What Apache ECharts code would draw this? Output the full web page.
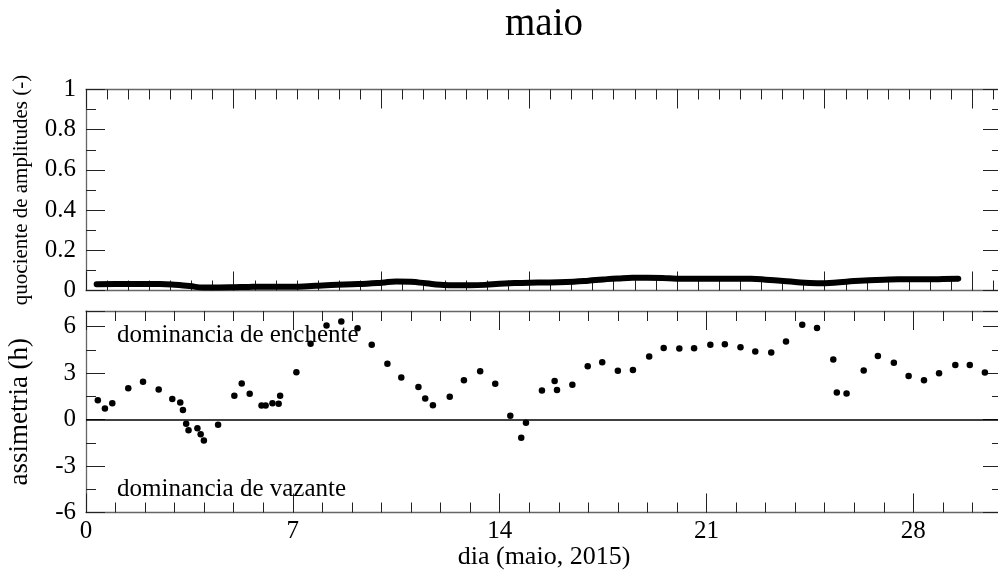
<!DOCTYPE html>
<html><head><meta charset="utf-8">
<script src="https://cdn.jsdelivr.net/npm/echarts@6/dist/echarts.min.js"></script>
<style>html,body{margin:0;padding:0;background:#fff}#c{width:998px;height:579px}</style>
</head><body><div id="c"></div>
<script>
// top panel: quociente de amplitudes (-)
const ampDays = [0.36,1.0,1.5,2.0,2.5,3.0,3.5,4.0,4.5,5.0,5.5,6.0,6.5,7.0,7.5,8.0,8.5,9.0,9.5,10.0,10.5,11.0,11.5,12.0,12.5,13.0,13.5,14.0,14.5,15.0,15.5,16.0,16.5,17.0,17.5,18.0,18.5,19.0,19.5,20.0,20.5,21.0,21.5,22.0,22.5,23.0,23.5,24.0,24.5,25.0,25.5,26.0,26.5,27.0,27.5,28.0,28.5,29.0,29.52];
const ampValues = [0.031,0.032,0.032,0.032,0.032,0.029,0.022,0.015,0.015,0.016,0.018,0.019,0.019,0.019,0.021,0.025,0.028,0.031,0.034,0.039,0.045,0.043,0.036,0.029,0.026,0.026,0.028,0.034,0.037,0.039,0.040,0.041,0.044,0.049,0.055,0.060,0.063,0.063,0.062,0.059,0.059,0.059,0.059,0.059,0.058,0.054,0.048,0.042,0.037,0.036,0.041,0.047,0.051,0.054,0.056,0.056,0.056,0.057,0.059];
// bottom panel: assimetria (h)
const asymDays = [0.40,0.64,0.89,1.43,1.93,2.46,2.92,3.19,3.28,3.39,3.47,3.77,3.88,3.99,4.47,5.02,5.27,5.54,5.94,6.08,6.31,6.52,6.57,7.12,7.60,8.14,8.64,9.19,9.67,10.20,10.67,11.25,11.48,11.74,12.31,12.79,13.34,13.85,14.36,14.73,14.89,15.43,15.86,15.94,16.46,16.98,17.47,18.00,18.51,19.06,19.55,20.08,20.58,21.13,21.62,22.15,22.65,23.19,23.69,24.24,24.74,25.29,25.41,25.74,26.32,26.80,27.34,27.84,28.36,28.87,29.42,29.91,30.42];
const asymValues = [1.25,0.71,1.05,2.02,2.43,1.94,1.33,1.10,0.62,-0.28,-0.69,-0.56,-0.95,-1.35,-0.34,1.53,2.32,1.66,0.90,0.90,1.05,1.01,1.53,3.05,4.88,6.06,6.32,5.89,4.82,3.59,2.71,2.09,1.35,0.92,1.46,2.54,3.12,2.30,0.24,-1.18,-0.21,1.87,2.49,1.91,2.24,3.44,3.70,3.14,3.20,4.06,4.62,4.58,4.60,4.82,4.86,4.66,4.39,4.32,5.03,6.11,5.91,3.87,1.74,1.68,3.16,4.09,3.66,2.80,2.54,2.99,3.51,3.51,3.03];
const dayTicks = [0,7,14,21,28];
const ampTicks = [0,0.2,0.4,0.6,0.8,1];
const asymTicks = [-6,-3,0,3,6];

const FONT = 'Liberation Serif';
const spine = {color:'#666', width:1.3};
const tickStyle = {color:'#222', width:1};

function axis(kind, grid, pos, min, max, interval, len, showLine, labelVals, extra) {
  const a = {
    type:'value', gridIndex:grid, position:pos, min:min, max:max, interval:interval,
    axisLine:{show:showLine, onZero:false, lineStyle:spine},
    axisTick:{show:true, inside:true, length:len, lineStyle:tickStyle},
    splitLine:{show:false},
    axisLabel: labelVals ? {
      show:true, fontFamily:FONT, fontSize:25, color:'#000',
      margin: kind==='x' ? 6 : 10,
      formatter: v => (labelVals.some(t => Math.abs(t - v) < 1e-9) ? String(v) : '')
    } : {show:false}
  };
  return Object.assign(a, extra || {});
}

const xAxes = [
  axis('x',0,'bottom',0,31,5,19,true,null),
  axis('x',0,'bottom',0,31,5/7,10,false,null),
  axis('x',0,'top',0,31,5,19,true,null),
  axis('x',0,'top',0,31,5/7,10,false,null),
  axis('x',1,'bottom',0,31,7,19,true,dayTicks,{
    name:'dia (maio, 2015)', nameLocation:'middle', nameGap:31,
    nameTextStyle:{fontFamily:FONT, fontSize:26, color:'#000'}}),
  axis('x',1,'bottom',0,31,1,10,false,null),
  axis('x',1,'top',0,31,7,19,true,null),
  axis('x',1,'top',0,31,1,10,false,null)
];
const yAxes = [
  axis('y',0,'left',0,1,0.2,19,true,ampTicks,{
    name:'quociente de amplitudes (-)', nameLocation:'middle', nameGap:54, nameRotate:90,
    nameTextStyle:{fontFamily:FONT, fontSize:21, color:'#000'}}),
  axis('y',0,'left',0,1,0.1,10,false,null),
  axis('y',0,'right',0,1,0.2,19,true,null),
  axis('y',0,'right',0,1,0.1,10,false,null),
  axis('y',1,'left',-6,7,3,19,true,asymTicks,{
    name:'assimetria (h)', nameLocation:'middle', nameGap:53, nameRotate:90,
    nameTextStyle:{fontFamily:FONT, fontSize:27, color:'#000'}}),
  axis('y',1,'left',-6,7,1.5,10,false,null),
  axis('y',1,'right',-6,7,3,19,true,null),
  axis('y',1,'right',-6,7,1.5,10,false,null)
];

const chart = echarts.init(document.getElementById('c'), null, {renderer:'canvas'});
chart.setOption({
  animation:false,
  backgroundColor:'#fff',
  grid:[
    {left:86, top:89.5, width:916, height:201, outerBoundsMode:'none', containLabel:false},
    {left:86, top:311, width:916, height:201.5, outerBoundsMode:'none', containLabel:false}
  ],
  xAxis: xAxes,
  yAxis: yAxes,
  graphic:[
    {type:'text', x:544, y:25, style:{text:'maio', font:'39px "Liberation Serif"', fill:'#000', textAlign:'center', textVerticalAlign:'middle'}},
    {type:'text', x:117, y:335, style:{text:'dominancia de enchente', font:'25px "Liberation Serif"', fill:'#000', textAlign:'left', textVerticalAlign:'middle'}},
    {type:'text', x:117, y:489, style:{text:'dominancia de vazante', font:'25px "Liberation Serif"', fill:'#000', textAlign:'left', textVerticalAlign:'middle'}}
  ],
  series:[
    {type:'line', xAxisIndex:0, yAxisIndex:0, smooth:true, symbol:'none',
     lineStyle:{color:'#000', width:6, cap:'round', join:'round'},
     data: ampDays.map((d,i)=>[d, ampValues[i]])},
    {type:'scatter', xAxisIndex:4, yAxisIndex:4, symbol:'circle', symbolSize:6.5,
     itemStyle:{color:'#000', opacity:1},
     data: asymDays.map((d,i)=>[d, asymValues[i]]),
     markLine:{silent:true, symbol:'none', label:{show:false},
       lineStyle:{color:'#000', width:1.5, type:'solid'}, data:[{yAxis:0}]}}
  ]
});
</script></body></html>
